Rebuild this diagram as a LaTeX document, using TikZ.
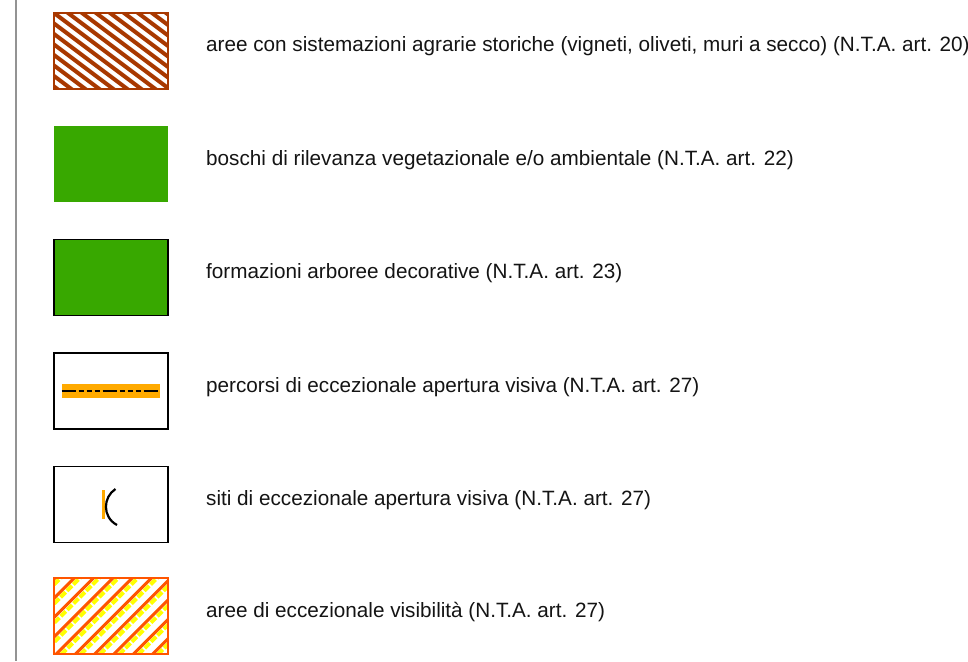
\documentclass[tikz,border=0pt]{standalone}
\usepackage{fontspec}
\setmainfont{Liberation Sans}
\definecolor{brownC}{RGB}{168,56,0}
\definecolor{greenC}{RGB}{56,168,0}
\definecolor{orangeC}{RGB}{255,170,0}
\definecolor{redC}{RGB}{255,85,0}
\definecolor{yellowC}{RGB}{255,255,0}
\definecolor{txtC}{RGB}{20,20,20}
\begin{document}
\begin{tikzpicture}[x=1pt,y=-1pt,
  swatch/.style={rectangle,inner sep=0pt,minimum width=114pt,minimum height=76pt},
  lbl/.style={anchor=base west,inner sep=0pt,text=txtC,font=\fontsize{20.7}{24}\selectfont},
  hatchA/.style={brownC,line width=4pt},
  hatchB/.style={redC,line width=3pt},
  hatchY/.style={yellowC,line width=4pt,dash pattern=on 7pt off 2pt}]
\useasboundingbox (0,0) rectangle (968,661);
\fill[white] (0,0) rectangle (968,661);
\draw[gray!85,line width=1.2pt] (16,0) -- (16,661);

% swatch 1
\node[swatch] (s1) at (111,51) {};
\begin{scope}
\clip (s1.south west) rectangle (s1.north east);
\foreach \k in {-12,...,12}
  \draw[hatchA] ({54+14*\k-160},{13-120}) -- ({54+14*\k+160},{13+120});
\end{scope}
\draw[brownC,line width=2pt] (s1.south west) rectangle (s1.north east);
\node[lbl] (t1) at (206,52) {aree con sistemazioni agrarie storiche (vigneti, oliveti, muri a secco) (N.T.A. art. 20)};

% swatch 2
\node[swatch,fill=greenC] (s2) at (111,164) {};
\node[lbl] (t2) at (206,165) {boschi di rilevanza vegetazionale e/o ambientale (N.T.A. art. 22)};

% swatch 3
\node[swatch,fill=greenC,draw=black,line width=1.5pt] (s3) at (111,277.5) {};
\node[lbl] (t3) at (206,278) {formazioni arboree decorative (N.T.A. art. 23)};

% swatch 4
\node[swatch,draw=black,line width=1.3pt] (s4) at (111,391) {};
\fill[orangeC] (61.7,384) rectangle (160,398);
\draw[black,line width=1.5pt,dash pattern=on 14pt off 3pt on 5pt off 3pt on 5pt off 3pt on 5pt off 3pt] (61.7,391) -- (160,391);
\node[lbl] (t4) at (206,392) {percorsi di eccezionale apertura visiva (N.T.A. art. 27)};

% swatch 5
\node[swatch,draw=black,line width=1.3pt] (s5) at (111,504.5) {};
\draw[orangeC,line width=3pt] (103.5,490) -- (103.5,519);
\draw[black,line width=2.2pt] (115.5,489) .. controls (103,497) and (102,517) .. (117,525);
\node[lbl] (t5) at (206,505) {siti di eccezionale apertura visiva (N.T.A. art. 27)};

% swatch 6
\node[swatch] (s6) at (111,616) {};
\begin{scope}
\clip (s6.south west) rectangle (s6.north east);
\foreach \k in {-10,...,10} {
  \draw[hatchY] ({54+19.3*\k+5.5-120},{579+120}) -- ({54+19.3*\k+5.5+120},{579-120});
  \draw[hatchB] ({54+19.3*\k-120},{579+120}) -- ({54+19.3*\k+120},{579-120});
}
\end{scope}
\draw[redC,line width=2.5pt] (s6.south west) rectangle (s6.north east);
\node[lbl] (t6) at (206,617) {aree di eccezionale visibilità (N.T.A. art. 27)};
\end{tikzpicture}
\end{document}
